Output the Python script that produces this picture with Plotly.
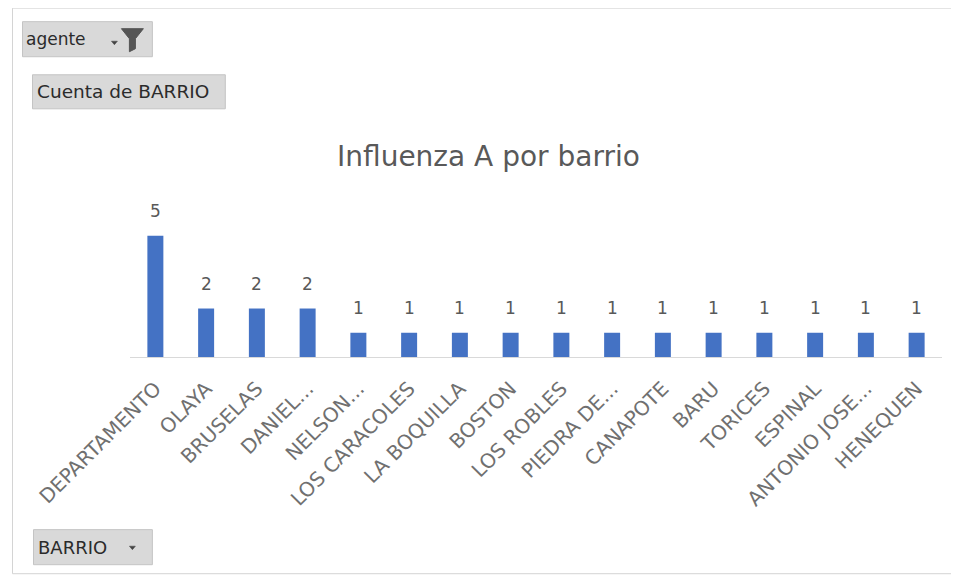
import plotly.graph_objects as go

# ---- data ----
barrios = ["DEPARTAMENTO", "OLAYA", "BRUSELAS", "DANIEL...", "NELSON...", "LOS CARACOLES",
           "LA BOQUILLA", "BOSTON", "LOS ROBLES", "PIEDRA DE...", "CANAPOTE", "BARU",
           "TORICES", "ESPINAL", "ANTONIO JOSE...", "HENEQUEN"]
cuentas = [5, 2, 2, 2, 1, 1, 1, 1, 1, 1, 1, 1, 1, 1, 1, 1]
titulo = "Influenza A por barrio"

OFF = 8  # page body margin
W, H = 959 - OFF, 578 - OFF
ML, MR, MT, MB = 121.6, 16.6, 192, 221.3
PW = W - ML - MR
PH = H - MT - MB
YMAX = PH / 24.2

def px(x):
    return (x - OFF - ML) / PW

def py(y):
    return (H - MB - (y - OFF)) / PH

FONT = "DejaVu Sans"
GRAY = "#595959"

fig = go.Figure()
fig.add_trace(go.Bar(
    x=barrios, y=cuentas,
    marker=dict(color="#4472C4", line=dict(width=0)),
    hoverinfo="x+y",
))

annotations = []
for b, c in zip(barrios, cuentas):
    annotations.append(dict(x=b, y=c, xref="x", yref="y", text=str(c), showarrow=False,
                            yanchor="bottom", yshift=13,
                            font=dict(family=FONT, size=17, color=GRAY)))

annotations.append(dict(x=px(488), y=py(157), xref="paper", yref="paper", text=titulo,
                        showarrow=False, xanchor="center", yanchor="middle",
                        font=dict(family=FONT, size=28, color=GRAY)))

shapes = []
# outer border
shapes.append(dict(type="rect", xref="paper", yref="paper",
                   x0=px(12), x1=px(956), y0=py(573), y1=py(8.5),
                   line=dict(color="#d4d4d4", width=1), fillcolor="rgba(0,0,0,0)", layer="below"))

def button(x0, x1, y0, y1, label, tx, size):
    shapes.append(dict(type="rect", xref="paper", yref="paper",
                       x0=px(x0), x1=px(x1), y0=py(y1), y1=py(y0),
                       line=dict(color="#c4c4c4", width=1), fillcolor="#d9d9d9", layer="below"))
    annotations.append(dict(x=px(tx), y=py((y0 + y1) / 2), xref="paper", yref="paper",
                            text=label, showarrow=False, xanchor="left", yanchor="middle",
                            font=dict(family=FONT, size=size, color="#2b2b2b")))

button(22, 152, 22, 57, "agente", 23, 17)
button(32, 225, 75, 109, "Cuenta de BARRIO", 35, 18.5)
button(33, 152, 529, 564, "BARRIO", 36, 18)

def tri(cx, cy):
    pts = [(cx - 3, cy - 1.5), (cx + 3, cy - 1.5), (cx, cy + 2)]
    path = "M " + " L ".join(f"{px(a)},{py(b)}" for a, b in pts) + " Z"
    shapes.append(dict(type="path", xref="paper", yref="paper", path=path,
                       fillcolor="#444", line=dict(color="#444", width=0.5)))

tri(132, 547)
tri(114, 43)
# funnel icon
fx = [px(v) for v in (121, 143, 135, 135, 129, 129)]
fy = [py(v) for v in (29, 29, 39, 49, 52, 39)]
path = "M " + " L ".join(f"{a},{b}" for a, b in zip(fx, fy)) + " Z"
shapes.append(dict(type="path", xref="paper", yref="paper", path=path,
                   fillcolor="#555", line=dict(color="#555", width=1)))

fig.update_layout(
    width=W, height=H,
    margin=dict(l=ML, r=MR, t=MT, b=MB, autoexpand=False),
    paper_bgcolor="white", plot_bgcolor="white",
    showlegend=False,
    bargap=0.685,
    xaxis=dict(showgrid=False, showline=True, linecolor="#d9d9d9", linewidth=1,
               ticks="", tickangle=-45, fixedrange=True, ticklabelstandoff=11,
               tickfont=dict(family=FONT, size=20, color="#707070")),
    yaxis=dict(range=[0, YMAX], visible=False, fixedrange=True),
    annotations=annotations,
    shapes=shapes,
)

fig.write_html("out.html")
